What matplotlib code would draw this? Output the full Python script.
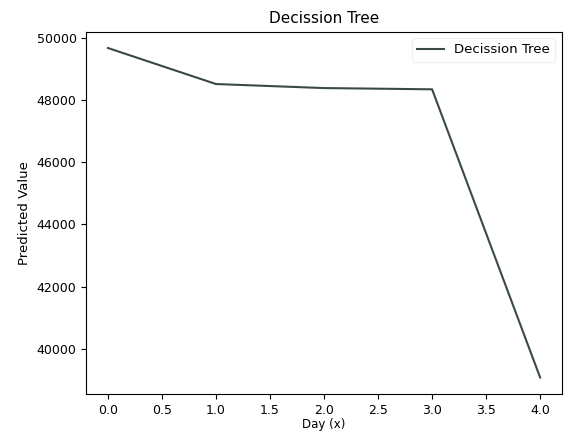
import matplotlib
matplotlib.use("Agg")
import matplotlib.pyplot as plt

# Predicted values per day index
days = [0, 1, 2, 3, 4]
predicted = [49680, 48520, 48390, 48350, 39070]
line_label = "Decission Tree"

fig = plt.figure(figsize=(5.68, 4.32), dpi=100)
ax = fig.add_axes([0.152, 0.088, 0.837, 0.839])

ax.plot(days, predicted, color="#3b4a48", linewidth=1.5, label=line_label)

ax.set_title("Decission Tree", fontsize=11)
ax.set_xlabel("Day (x)", fontsize=8.5, labelpad=1)
ax.set_ylabel("Predicted Value", fontsize=9.5)
ax.tick_params(labelsize=9)
ax.legend(loc="upper right", fontsize=9.5, frameon=True, edgecolor="#eeeeee")

fig.savefig("out.png", dpi=100)
plt.close(fig)
